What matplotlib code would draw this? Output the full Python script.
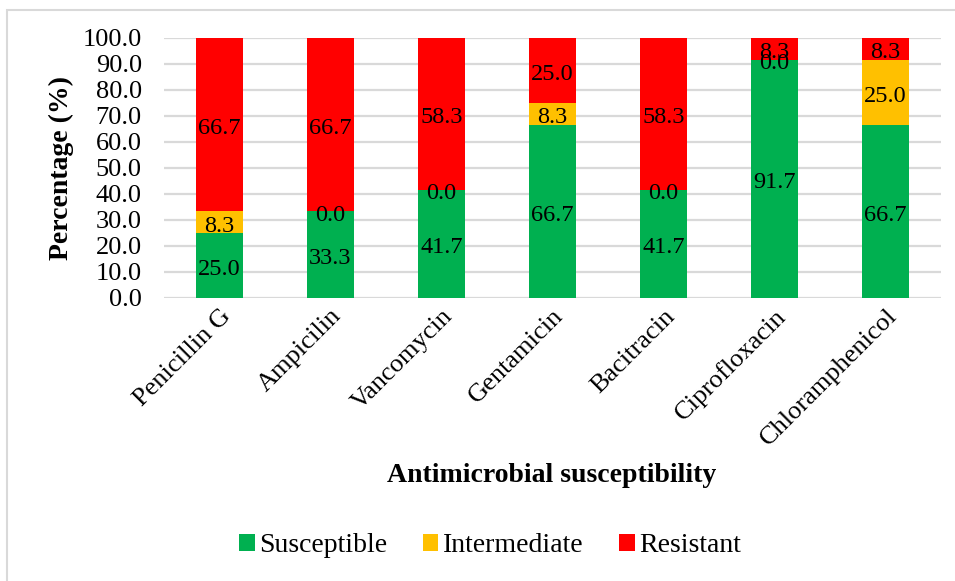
import matplotlib
matplotlib.use("Agg")
import matplotlib.pyplot as plt
from matplotlib.patches import Rectangle
import numpy as np

categories = ["Penicillin G", "Ampicilin", "Vancomycin", "Gentamicin",
              "Bacitracin", "Ciprofloxacin", "Chloramphenicol"]
susceptible = [25.0, 33.3, 41.7, 66.7, 41.7, 91.7, 66.7]
intermediate = [8.3, 0.0, 0.0, 8.3, 0.0, 0.0, 25.0]
resistant = [66.7, 66.7, 58.3, 25.0, 58.3, 8.3, 8.3]
series_names = ["Susceptible", "Intermediate", "Resistant"]
colors = ["#00B050", "#FFC000", "#FF0000"]
yticks = [0, 10, 20, 30, 40, 50, 60, 70, 80, 90, 100]

plt.rcParams['font.family'] = ['Liberation Serif', 'DejaVu Serif']

W, H = 955, 581
fig = plt.figure(figsize=(W / 100, H / 100), dpi=100)
ax = fig.add_axes([164 / W, 1 - 298 / H, (941 - 164) / W, (298 - 38) / H])

x = np.arange(len(categories))
bottom = np.zeros(len(categories))
for vals, name, c in zip([susceptible, intermediate, resistant], series_names, colors):
    vals = np.array(vals)
    ax.bar(x, vals, 0.43, bottom=bottom, color=c, label=name, zorder=3)
    for xi, b, v in zip(x, bottom, vals):
        ax.annotate(f"{v:.1f}", (xi, b + v / 2), xytext=(0, -3), textcoords='offset points',
                    ha='center', va='center', fontsize=17.5, color='black', zorder=4)
    bottom = bottom + vals

ax.set_xlim(-0.5, len(categories) - 0.5)
ax.set_ylim(0, 100)
ax.set_yticks(yticks)
ax.set_yticklabels([f"{t:.1f}" for t in yticks], fontsize=19)
ax.set_xticks(x)
ax.set_xticklabels(categories, rotation=45, ha='right', rotation_mode='anchor', fontsize=19)
ax.tick_params(axis='both', length=0)
ax.tick_params(axis='y', pad=16)
ax.tick_params(axis='x', pad=5)
for s in ax.spines.values():
    s.set_visible(False)
ax.yaxis.grid(True, color='#d9d9d9', linewidth=1.6, zorder=0)
ax.set_axisbelow(True)

ax.set_ylabel("Percentage (%)", fontsize=20, fontweight='bold', labelpad=6)
fig.text(552 / W, 1 - 476 / H, "Antimicrobial susceptibility", ha='center', va='center',
         fontsize=20, fontweight='bold')

leg = fig.legend(loc='center', bbox_to_anchor=(490 / W, 1 - 546 / H), ncol=3, frameon=False,
                 fontsize=20, handlelength=0.55, handleheight=0.55, handletextpad=0.15,
                 columnspacing=1.3)

fig.patches.append(Rectangle((7 / W, -0.2), 1.2, 1 - 10 / H + 0.2, transform=fig.transFigure,
                             fill=False, edgecolor='#d9d9d9', linewidth=1.5, zorder=0))

fig.savefig("out.png", dpi=100)
